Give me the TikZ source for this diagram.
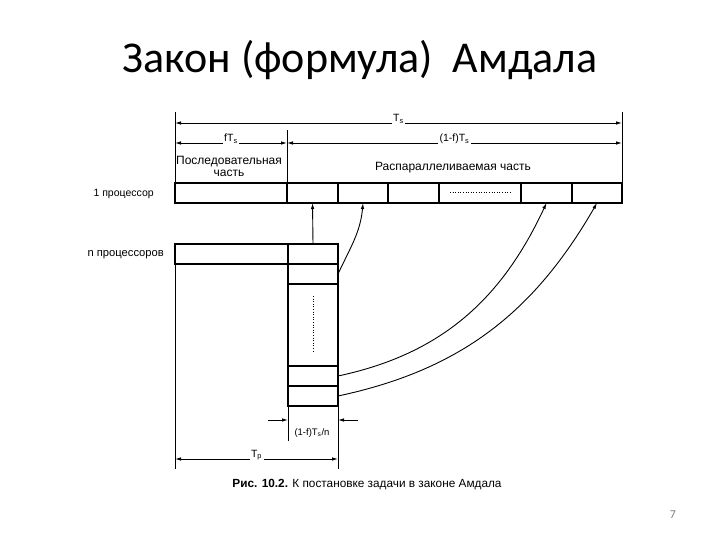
\documentclass[tikz,border=0pt]{standalone}
\usepackage{fontspec}
\setmainfont{Liberation Sans}
\newfontfamily\titlefont{Carlito}
\usetikzlibrary{arrows.meta,positioning}

\begin{document}
\begin{tikzpicture}[x=1pt, y=-1pt, >={Latex[length=6pt,width=3.5pt]},
  font=\fontsize{10.5}{12}\selectfont,
  cell/.style={draw, line width=1.6pt, inner sep=0pt, outer sep=0pt, minimum height=20pt},
  dimline/.style={<->, line width=0.9pt},
  extline/.style={line width=0.9pt},
  link/.style={->, line width=0.9pt},
  bigtext/.style={font=\fontsize{12}{13}\selectfont},
  dimlabel/.style={midway, fill=white, inner sep=1.5pt, yshift=4pt}]
  \fill[white] (0,0) rectangle (720,540);
  \useasboundingbox (0,0) rectangle (720,540);

  \node[font=\titlefont\fontsize{44}{50}\selectfont] (title) at (360,60) {Закон (формула)\ \ Амдала};

  % one processor
  \node[cell, minimum width=112pt, anchor=north west] (seq) at (175,183) {};
  \node[cell, minimum width=51pt, right=0pt of seq] (par1) {};
  \node[cell, minimum width=50pt, right=0pt of par1] (par2) {};
  \node[cell, minimum width=51pt, right=0pt of par2] (par3) {};
  \node[cell, minimum width=82pt, right=0pt of par3] (pardots) {};
  \node[cell, minimum width=51pt, right=0pt of pardots] (par5) {};
  \node[cell, minimum width=50pt, right=0pt of par5] (par6) {};
  \draw[dotted, line width=0.6pt] ([xshift=-30pt,yshift=1pt]pardots.center) -- ([xshift=30pt,yshift=1pt]pardots.center);

  % n processors
  \node[cell, minimum width=113pt, anchor=north west] (nseq) at (175,244) {};
  \node[cell, minimum width=50pt, right=0pt of nseq] (npar) {};
  \node[cell, minimum width=50pt, below=0pt of npar] (col1) {};
  \node[cell, minimum width=50pt, minimum height=82pt, below=0pt of col1] (coldots) {};
  \node[cell, minimum width=50pt, below=0pt of coldots] (col3) {};
  \node[cell, minimum width=50pt, below=0pt of col3] (col4) {};
  \draw[dotted, line width=0.6pt] ([yshift=29pt]coldots.center) -- ([yshift=-27pt]coldots.center);

  \node[anchor=west] (one) at (90,194) {1 процессор};
  \node[anchor=west, font=\fontsize{11.2}{12}\selectfont] (many) at (84,255) {n процессоров};
  \node[bigtext, align=center] (seqtext) at (229,166) {Последовательная\\[-1pt]часть};
  \node[bigtext] (partext) at (453,168) {Распараллеливаемая часть};

  % extension lines
  \draw[extline] (seq.north west) -- ++(0,-71);
  \draw[extline] (par6.north east) -- ++(0,-71);
  \draw[extline] (seq.north east) -- ++(0,-53);
  \draw[extline] (nseq.south west) -- ++(0,205);
  \draw[extline] (col4.south west) -- ++(0,35);
  \draw[extline] (col4.south east) -- ++(0,63);

  % dimensions
  \coordinate (tsL) at (175,123);
  \coordinate (tsR) at (622,123);
  \coordinate (fL) at (175,143);
  \coordinate (fM) at (287,143);
  \coordinate (fR) at (622,143);
  \coordinate (tpL) at (175,459);
  \coordinate (tpR) at (338,459);
  \draw[dimline] (tsL) -- node[dimlabel] {T\textsubscript{s}} (tsR);
  \draw[dimline] (fL) -- node[dimlabel] {fT\textsubscript{s}} (fM);
  \draw[dimline] (fM) -- node[dimlabel] {(1-f)T\textsubscript{s}} (fR);
  \draw[dimline] (tpL) -- node[dimlabel] {T\textsubscript{p}} (tpR);

  \coordinate (wL) at (268,420);
  \coordinate (wLend) at (288,420);
  \coordinate (wR) at (358,420);
  \coordinate (wRend) at (338,420);
  \draw[link] (wL) -- (wLend);
  \draw[link] (wR) -- (wRend);
  \node[font=\fontsize{9.5}{11}\selectfont] (width) at (312,433) {(1-f)T\textsubscript{s}/n};

  % transfers
  \draw[link] (npar.north) -- (par1.south);
  \draw[link] (col1.east) to[out=65, in=-95] (par2.south);
  \draw[link] (col3.east) to[out=12, in=-115] (par5.south);
  \draw[link] (col4.east) to[out=12, in=-120] (par6.south);

  \node[font=\fontsize{11.8}{13}\selectfont] (caption) at (367,485) {\textbf{Рис. 10.2.} К постановке задачи в законе Амдала};
  \node[text=gray, font=\titlefont\fontsize{12}{14}\selectfont] (pnum) at (673,515) {7};
\end{tikzpicture}
\end{document}
